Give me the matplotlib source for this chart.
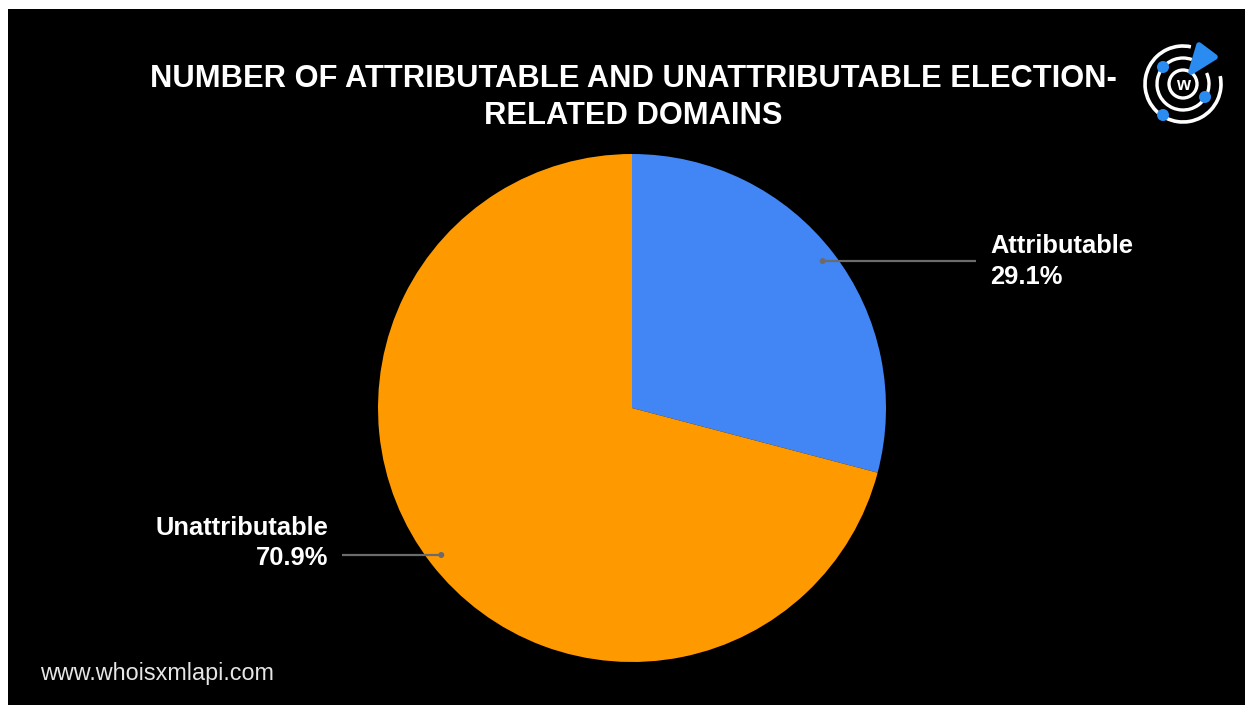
import numpy as np
import matplotlib
matplotlib.use("Agg")
import matplotlib.pyplot as plt
from matplotlib.patches import Rectangle, Arc, Circle, Polygon

# Data
categories = ["Attributable", "Unattributable"]
shares = [29.1, 70.9]
colors = ["#4285F4", "#FF9900"]

title_lines = ["NUMBER OF ATTRIBUTABLE AND UNATTRIBUTABLE ELECTION-", "RELATED DOMAINS"]
footer = "www.whoisxmlapi.com"

W, H = 1245, 705
plt.rcParams["font.family"] = ["Liberation Sans", "DejaVu Sans"]

fig = plt.figure(figsize=(W / 100, H / 100), dpi=100, facecolor="white")


def pixel_axes(z):
    ax = fig.add_axes([0, 0, 1, 1], zorder=z)
    ax.set_xlim(0, W)
    ax.set_ylim(H, 0)
    ax.set_aspect("auto")
    ax.axis("off")
    ax.patch.set_alpha(0)
    return ax


# Background panel
bg = pixel_axes(0)
bg.add_patch(Rectangle((8, 9), W - 8, H - 9, facecolor="black", edgecolor="none", zorder=0))

# Pie
cx, cy, r = 632, 408, 254
pie_ax = fig.add_axes([(cx - r) / W, (H - (cy + r)) / H, 2 * r / W, 2 * r / H], zorder=1)
wedges, _ = pie_ax.pie(shares, colors=colors, startangle=90, counterclock=False,
                       wedgeprops=dict(linewidth=0), radius=1.0)
pie_ax.set_xlim(-1, 1)
pie_ax.set_ylim(-1, 1)
pie_ax.set_aspect("auto")
pie_ax.axis("off")

# Overlay for annotations, text and logo
ov = pixel_axes(2)

for i, line in enumerate(title_lines):
    ov.text(633, 87 + 37 * i, line, ha="center", va="baseline", color="white",
            fontsize=22.2, fontweight="bold")

ov.text(40, 680, footer, ha="left", va="baseline", color="#e6e6e6", fontsize=16.8)

fig.canvas.draw()
to_px = ov.transData.inverted()

label_cfg = {
    "Attributable": dict(line_end=976, text_x=990, ha="left", offsets=(-8, 23)),
    "Unattributable": dict(line_end=342, text_x=328, ha="right", offsets=(-20, 10)),
}

for wedge, name, val in zip(wedges, categories, shares):
    mid = np.deg2rad((wedge.theta1 + wedge.theta2) / 2)
    px, py = to_px.transform(pie_ax.transData.transform((0.948 * np.cos(mid), 0.948 * np.sin(mid))))
    cfg = label_cfg[name]
    ov.plot([px, cfg["line_end"]], [py, py], color="#6b6b6b", linewidth=1.6, zorder=3,
            solid_capstyle="butt")
    ov.add_patch(Circle((px, py), 3.0, facecolor="#6b6b6b", edgecolor="none", zorder=4))
    ov.text(cfg["text_x"], py + cfg["offsets"][0], name, ha=cfg["ha"], va="baseline",
            color="white", fontsize=18.4, fontweight="bold")
    ov.text(cfg["text_x"], py + cfg["offsets"][1], f"{val}%", ha=cfg["ha"], va="baseline",
            color="white", fontsize=18.4, fontweight="bold")

# Logo (top right); y axis is inverted, so arc angles run clockwise on screen
lx, ly = 1183, 84
blue = "#2a8cf0"
ov.add_patch(Arc((lx, ly), 76, 76, theta1=-12, theta2=282, color="white", linewidth=2.6, zorder=5))
ov.add_patch(Arc((lx, ly), 52, 52, theta1=-25, theta2=290, color="white", linewidth=2.4, zorder=5))
ov.add_patch(Circle((lx, ly), 14, facecolor="black", edgecolor="white", linewidth=2.4, zorder=5))
ov.text(lx, ly + 1, "w", ha="center", va="center", color="white", fontsize=13,
        fontweight="bold", zorder=6)
for dx, dy in [(-20, -17), (22, 13), (-20, 31)]:
    ov.add_patch(Circle((lx + dx, ly + dy), 6, facecolor=blue, edgecolor="none", zorder=7))
ov.add_patch(Polygon([(1199, 45), (1215, 57), (1191, 72)], closed=True, facecolor=blue,
                     edgecolor=blue, linewidth=4, joinstyle="round", zorder=7))

fig.savefig("out.png", dpi=100, facecolor="white")
